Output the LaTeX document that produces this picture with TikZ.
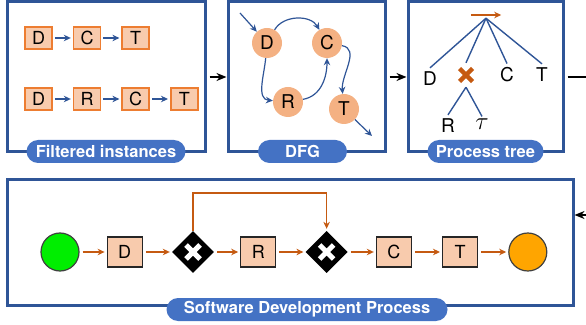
\documentclass[tikz,border=0pt]{standalone}
\usepackage{fontspec}
\setmainfont{TeX Gyre Heros}
\usetikzlibrary{shapes.geometric,arrows.meta,positioning}
\definecolor{frameblue}{HTML}{2F5597}
\definecolor{pillblue}{HTML}{4472C4}
\definecolor{evborder}{HTML}{ED7D31}
\definecolor{evfill}{HTML}{F8CBAD}
\definecolor{actfill}{HTML}{F4B183}
\definecolor{flowbrown}{HTML}{C55A11}
\definecolor{startgreen}{HTML}{00EE00}
\definecolor{endorange}{HTML}{FFA500}

\begin{document}
\begin{tikzpicture}[x=1pt,y=1pt,>={Stealth[length=7pt,width=6.5pt]},
  frame/.style={draw=frameblue,line width=3pt,inner sep=0pt},
  pill/.style={fill=pillblue,rounded corners=11.5pt,minimum height=23pt,inner sep=0pt,text=white,font=\fontsize{16.5}{18}\selectfont\bfseries},
  event box/.style={draw=evborder,fill=evfill,line width=1.6pt,minimum width=27pt,minimum height=22pt,inner sep=0pt,font=\fontsize{18}{20}\selectfont},
  act node/.style={circle,fill=actfill,minimum size=30pt,inner sep=0pt,font=\fontsize{19}{21}\selectfont},
  tree label/.style={inner sep=4pt,font=\fontsize{19}{21}\selectfont},
  task/.style={draw=black!85,fill=evfill,line width=1.2pt,minimum width=35pt,minimum height=30pt,inner sep=0pt,font=\fontsize{18}{20}\selectfont},
  gateway/.style={diamond,fill=black,minimum width=42pt,minimum height=42pt,inner sep=0pt,
    path picture={\draw[white,line width=5pt] (path picture bounding box.center) ++(-7,-7) -- ++(14,14)
      (path picture bounding box.center) ++(-7,7) -- ++(14,-14);}},
  trace arrow/.style={->,draw=frameblue,line width=1.4pt,shorten <=2pt,shorten >=2pt},
  dfg arrow/.style={->,draw=frameblue,line width=1.2pt},
  tree edge/.style={draw=frameblue,line width=1.4pt},
  flow/.style={->,draw=flowbrown,line width=1.5pt,shorten <=3pt,shorten >=2pt},
  link/.style={-{Stealth[length=10pt,width=8pt]},line width=1.8pt,shorten <=3pt}]

\useasboundingbox (0,0) rectangle (586,324);
\clip (0,0) rectangle (586,324);

% frames
\node[frame,minimum width=198pt,minimum height=150pt] (inst) at (106,247) {};
\node[frame,minimum width=157pt,minimum height=150pt] (dfg) at (306.5,247) {};
\node[frame,minimum width=155pt,minimum height=150pt] (ptree) at (485.5,247) {};
\node[frame,minimum width=566pt,minimum height=125pt] (sdp) at (290,81.5) {};

% filtered instances
\node[event box] (d1) at (38.5,286) {D};
\node[event box,right=20pt of d1] (c1) {C};
\node[event box,right=20pt of c1] (t1) {T};
\node[event box] (d2) at (38.5,225) {D};
\node[event box,right=20pt of d2] (r2) {R};
\node[event box,right=20pt of r2] (c2) {C};
\node[event box,right=20pt of c2] (t2) {T};
\draw[trace arrow] (d1) -- (c1);
\draw[trace arrow] (c1) -- (t1);
\draw[trace arrow] (d2) -- (r2);
\draw[trace arrow] (r2) -- (c2);
\draw[trace arrow] (c2) -- (t2);

% DFG
\node[act node] (dD) at (267,281) {D};
\node[act node] (dC) at (327,281) {C};
\node[act node] (dR) at (288,222) {R};
\node[act node] (dT) at (344,215) {T};
\coordinate (din) at (240,311);
\coordinate (dout) at (372,188);
\draw[dfg arrow] (din) -- (dD);
\draw[dfg arrow] (dD) to[out=60,in=120] (dC);
\draw[dfg arrow] (dD) to[out=-95,in=175] (dR);
\draw[dfg arrow] (dR) to[out=10,in=-90] (dC);
\draw[dfg arrow] (dC) to[out=-10,in=95] (dT);
\draw[dfg arrow] (dT) -- (dout);

% process tree
\node[minimum width=30pt,minimum height=6pt,inner sep=0pt] (seq) at (486,309) {};
\draw[->,draw=flowbrown,line width=1.4pt] (seq.west) -- (seq.east);
\node[tree label] (tD) at (430,245) {D};
\node[minimum size=18pt,inner sep=0pt,
  path picture={\draw[flowbrown,line width=4.5pt] (path picture bounding box.center) ++(-6.5,-6.5) -- ++(13,13)
    (path picture bounding box.center) ++(-6.5,6.5) -- ++(13,-13);}] (tX) at (466,249) {};
\node[tree label] (tC) at (507,249) {C};
\node[tree label] (tT) at (542,249) {T};
\node[tree label] (tR) at (448,198) {R};
\node[tree label,font=\fontsize{24}{26}\selectfont] (tTau) at (482,200) {$\tau$};
\draw[tree edge] (seq.south) -- (tD.north);
\draw[tree edge] (seq.south) -- ([yshift=3pt]tX.north);
\draw[tree edge] (seq.south) -- (tC.north);
\draw[tree edge] (seq.south) -- (tT.north);
\draw[tree edge] ([yshift=-3pt]tX.south) -- (tR.north);
\draw[tree edge] ([yshift=-3pt]tX.south) -- ([yshift=-2pt]tTau.north);

% software development process
\node[circle,draw=black!75,line width=1.2pt,fill=startgreen,minimum size=38pt,inner sep=0pt] (start) at (60,72) {};
\node[task,right=27pt of start] (sD) {D};
\node[gateway,right=29pt of sD] (g1) {};
\node[task,right=26pt of g1] (sR) {R};
\node[gateway,right=29pt of sR] (g2) {};
\node[task,right=28pt of g2] (sC) {C};
\node[task,right=30pt of sC] (sT) {T};
\node[circle,draw=black!75,line width=1.2pt,fill=endorange,minimum size=38pt,inner sep=0pt,right=30pt of sT] (stop) {};
\draw[flow] (start) -- (sD);
\draw[flow] (sD) -- (g1);
\draw[flow] (g1) -- (sR);
\draw[flow] (sR) -- (g2);
\draw[flow] (g2) -- (sC);
\draw[flow] (sC) -- (sT);
\draw[flow] (sT) -- (stop);
\draw[flow,shorten <=0pt] (g1.north) -- ++(0,38) -| (g2.north);

% links between stages
\draw[link] (inst.east) -- (dfg.west);
\draw[link] (dfg.east) -- (ptree.west);
\draw[link] (ptree.east) -- ++(30,0) |- ([yshift=27.5pt]sdp.east);

% labels
\node[pill,minimum width=159pt] at ([yshift=2pt]inst.south) {Filtered instances};
\node[pill,minimum width=89pt] at ([xshift=-4pt,yshift=2pt]dfg.south) {DFG};
\node[pill,minimum width=116pt] at ([yshift=2pt]ptree.south) {Process tree};
\node[pill,minimum width=281pt] at ([xshift=17pt,yshift=-3pt]sdp.south) {Software Development Process};
\end{tikzpicture}
\end{document}
